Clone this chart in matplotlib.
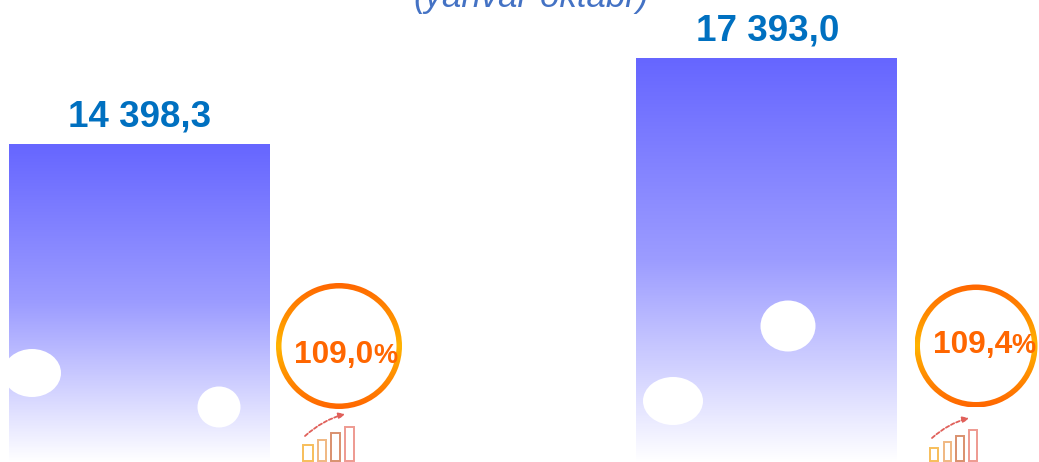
import numpy as np
import matplotlib
matplotlib.use("Agg")
import matplotlib.pyplot as plt
from matplotlib.colors import LinearSegmentedColormap
from matplotlib.patches import Ellipse, Wedge, Rectangle, FancyArrowPatch

periods = ["2022", "2023"]
values = [14398.3, 17393.0]
value_labels = ["14 398,3", "17 393,0"]
growth_labels = ["109,0", "109,4"]
title_text = "(yanvar-oktabr)"

W, H = 1039, 462
plt.rcParams["font.family"] = ["Liberation Sans", "DejaVu Sans"]
fig = plt.figure(figsize=(W / 100, H / 100), dpi=100, facecolor="white")

# value axes: bars share a truncated baseline below the visible picture
ax = fig.add_axes([0, 0, 1, 1])
ax.set_xlim(-0.2215, 1.4345)
ax.set_ylim(3312, 19420)
ax.axis("off")
bars = ax.bar(range(len(values)), values, width=0.4145, color="none", edgecolor="none")
bar_cmap = LinearSegmentedColormap.from_list("b", ["#6666FF", "#9C9CFF", "#FFFFFF"], N=256)
for bar in bars:
    x0, w, top = bar.get_x(), bar.get_width(), bar.get_height()
    im = ax.imshow(np.linspace(0, 1, 256)[:, None], cmap=bar_cmap, aspect="auto",
                   extent=[x0, x0 + w, 3312, top], origin="upper", zorder=1)
    im.set_clip_path(bar)
ax.set_xlim(-0.2215, 1.4345)
ax.set_ylim(3312, 19420)

# overlay in picture pixels
ov = fig.add_axes([0, 0, 1, 1], facecolor="none")
ov.set_xlim(0, W)
ov.set_ylim(H, 0)
ov.axis("off")

for cx, cy, ew, eh in [(32, 373, 58, 48), (219, 407, 43, 41), (788, 326, 55, 51), (673, 401, 60, 48)]:
    ov.add_patch(Ellipse((cx, cy), ew, eh, fc="white", ec="none", zorder=3))

ring_cmap = LinearSegmentedColormap.from_list("r", ["#FF6600", "#FF8C00", "#FFB400", "#FF8C00", "#FF6600"])
for cx, cy, r, t in [(339, 346, 63, 5.5), (976, 346, 61.5, 5.5)]:
    im = ov.imshow(np.linspace(0, 1, 256)[:, None], cmap=ring_cmap, aspect="auto",
                   extent=[cx - r, cx + r, cy + r, cy - r], zorder=4)
    w = Wedge((cx, cy), r, 0, 360, width=t, transform=ov.transData, fc="none", ec="none")
    ov.add_patch(w)
    im.set_clip_path(w)
ov.set_xlim(0, W)
ov.set_ylim(H, 0)

# value labels
ov.text(139.5, 126, value_labels[0], ha="center", va="baseline", fontsize=26.5,
        fontweight="bold", color="#0070C0", zorder=5)
ov.text(767.5, 40, value_labels[1], ha="center", va="baseline", fontsize=26.5,
        fontweight="bold", color="#0070C0", zorder=5)
ov.text(531.5, 7, title_text, ha="center", va="baseline", fontsize=25,
        style="italic", color="#4472C4", zorder=5)

# growth labels
for lab, x, xp, y in [(growth_labels[0], 294, 373, 363), (growth_labels[1], 933, 1011, 353)]:
    ov.text(x, y, lab, ha="left", va="baseline", fontsize=22.8, fontweight="bold", color="#FF6600", zorder=6)
    ov.text(xp, y, "%", ha="left", va="baseline", fontsize=19.5, fontweight="bold", color="#FF6600", zorder=6)

# small growth icons
cols = ["#F7BE5A", "#F0B882", "#D9906E", "#EE9A90"]
icons = [
    ([(303, 10, 445), (318, 8, 440), (331, 9, 433), (345, 9, 427)], (305, 436), (345, 414)),
    ([(930, 8, 448), (944, 7, 442), (956, 8, 436), (969, 8, 430)], (932, 438), (969, 418)),
]
for rects, a, b in icons:
    for (x, w, y), c in zip(rects, cols):
        ov.add_patch(Rectangle((x, y), w, 461 - y, fc="white", ec=c, lw=1.4, zorder=5))
    ov.add_patch(FancyArrowPatch(a, b, connectionstyle="arc3,rad=-0.12", arrowstyle="-|>", mutation_scale=9,
                                 shrinkA=0, shrinkB=0, color="#E0605A", lw=1.3, ls=(0, (2, 1.2)), zorder=5))

fig.savefig("out.png", dpi=100, facecolor="white")
